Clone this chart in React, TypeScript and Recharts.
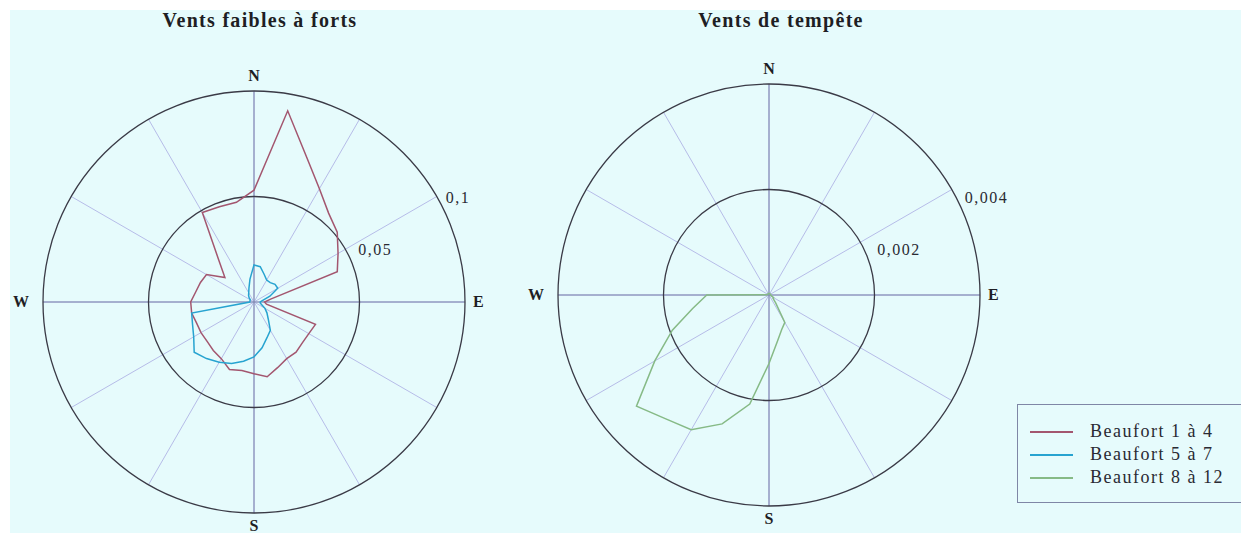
import React from 'react';
import { PolarAngleAxis, PolarGrid, PolarRadiusAxis, Radar, RadarChart } from 'recharts';

// wind direction, degrees from north, clockwise
const DIRECTIONS = [
  0, 10, 20, 30, 40, 50, 60, 70, 80, 90, 100, 110,
  120, 130, 140, 150, 160, 170, 180, 190, 200, 210, 220, 230,
  240, 250, 260, 270, 280, 290, 300, 310, 320, 330, 340, 350,
];

// frequencies
const BEAUFORT_1_4 = [
  0.053, 0.092, 0.073, 0.062, 0.055, 0.0515, 0.046, 0.042, 0.008, 0.005, 0.006, 0.031,
  0.030, 0.030, 0.031, 0.031, 0.033, 0.036, 0.034, 0.033, 0.034, 0.031, 0.030, 0.029,
  0.029, 0.029, 0.030, 0.030, 0.028, 0.027, 0.026, 0.018, 0.026, 0.049, 0.048, 0.048,
];
const BEAUFORT_5_7 = [
  0.0176, 0.017, 0.014, 0.012, 0.012, 0.013, 0.013, 0.008, 0.004, 0.003, 0.003, 0.004,
  0.006, 0.008, 0.0105, 0.0155, 0.018, 0.022, 0.026, 0.0285, 0.031, 0.033, 0.035, 0.037,
  0.033, 0.031, 0.030, 0.002, 0.002, 0.002, 0.002, 0.003, 0.004, 0.005, 0.007, 0.011,
];
const BEAUFORT_8_12 = [
  0.00003, 0.00003, 0.00003, 0.00003, 0.00003, 0.00003, 0.00003, 0.00003, 0.00003, 0.00003, 0.00004, 0.00005,
  0.0001, 0.0001, 0.0002, 0.0006, 0.0007, 0.0009, 0.0013, 0.0021, 0.0026, 0.00295, 0.00306, 0.00328,
  0.0025, 0.00195, 0.00147, 0.00118, 0.00003, 0.00003, 0.00003, 0.00003, 0.00003, 0.00003, 0.00003, 0.00003,
];

const SPOKES = [0, 30, 60, 90, 120, 150, 180, 210, 240, 270, 300, 330];
const CARDINALS: Record<number, string> = { 0: 'N', 90: 'E', 180: 'S', 270: 'W' };
const CALM_TICKS = [0.05, 0.1];
const STORM_TICKS = [0.002, 0.004];

const SERIES = [
  { key: 'b14', name: 'Beaufort 1 à 4', color: '#a3566f' },
  { key: 'b57', name: 'Beaufort 5 à 7', color: '#27a3d0' },
  { key: 'b812', name: 'Beaufort 8 à 12', color: '#86ba86' },
];

const data = DIRECTIONS.map((dir, i) => ({
  dir,
  b14: BEAUFORT_1_4[i],
  b57: BEAUFORT_5_7[i],
  b812: BEAUFORT_8_12[i],
}));

const SERIF = '"Liberation Serif", "DejaVu Serif", serif';
const BG = '#e6fbfc';
const RADIUS = 211;

// recharts angles: 90 = top, counter-clockwise
const cardinalAngles = Object.keys(CARDINALS).map(d => 90 - Number(d));

const CompassTick = (props: any) => {
  const { x, y, payload } = props;
  const label = CARDINALS[payload.value];
  if (!label) return <g />;
  const anchor = label === 'E' ? 'start' : label === 'W' ? 'end' : 'middle';
  const dy = label === 'N' ? 0 : label === 'S' ? 8 : 5;
  const dx = label === 'W' ? -4 : label === 'E' ? -2 : 0;
  return (
    <text x={x + dx} y={y + dy} textAnchor={anchor} fontFamily={SERIF} fontWeight="bold"
      fontSize={16} fill="#1e1e24">
      {label}
    </text>
  );
};

const makeRadiusTick = (dx: number, dy: number) => (props: any) => {
  const { x, y, payload } = props;
  const inner = payload.value !== props.ticksMax;
  return (
    <text x={x + dx + (inner ? 4 : 0)} y={y + dy} fontFamily={SERIF} fontSize={16}
      letterSpacing={1.5} fill="#2a2a33">
      {String(payload.value).replace('.', ',')}
    </text>
  );
};

interface RoseProps {
  title: string;
  keys: string[];
  ticks: number[];
  left: number;
  cx: number;
  cy: number;
  titleX: number;
  labelDx: number;
  labelDy: number;
}

const Rose = ({ title, keys, ticks, left, cx, cy, titleX, labelDx, labelDy }: RoseProps) => {
  const maxTick = ticks[ticks.length - 1];
  const baseTick = makeRadiusTick(labelDx, labelDy);
  return (
    <div style={{ position: 'absolute', left, top: 0, width: 515, height: 523 }}>
      <div style={{
        position: 'absolute', left: titleX - 200, top: 0, width: 400, textAlign: 'center',
        fontFamily: SERIF, fontWeight: 'bold', fontSize: 20, lineHeight: '20px',
        letterSpacing: 1.3, color: '#1e1e24',
      }}>
        {title}
      </div>
      <RadarChart width={515} height={523} data={data} cx={cx} cy={cy} outerRadius={RADIUS}>
        <PolarGrid gridType="circle" polarRadius={[]} stroke="#b6bce8" strokeWidth={1} />
        <PolarGrid gridType="circle" polarRadius={[]} polarAngles={cardinalAngles} stroke="#7d84ac" strokeWidth={1} />
        <PolarGrid gridType="circle" radialLines={false} stroke="#3a3a46" strokeWidth={1.3} />
        <PolarAngleAxis type="number" dataKey="dir" domain={[0, 360]} ticks={SPOKES}
          axisLine={false} tickLine={false} tickSize={10} tick={CompassTick} />
        <PolarRadiusAxis angle={30} domain={[0, maxTick]} ticks={ticks}
          axisLine={false} tickLine={false}
          tick={(p: any) => baseTick({ ...p, ticksMax: maxTick })} />
        {SERIES.filter(s => keys.includes(s.key)).map(s => (
          <Radar key={s.key} name={s.name} dataKey={s.key} stroke={s.color} strokeWidth={1.5}
            fill="none" dot={false} isAnimationActive={false} />
        ))}
      </RadarChart>
    </div>
  );
};

const LegendBox = () => (
  <div style={{
    position: 'absolute', left: 1007, top: 394, width: 260, height: 99,
    border: '1px solid #7f86a6', paddingTop: 15, boxSizing: 'border-box',
  }}>
    {SERIES.map(s => (
      <div key={s.key} style={{ display: 'flex', alignItems: 'center', height: 23 }}>
        <div style={{ marginLeft: 12, width: 43, height: 0, borderTop: `2px solid ${s.color}` }} />
        <span style={{
          marginLeft: 17, fontFamily: SERIF, fontSize: 18, letterSpacing: 1.5,
          color: '#2a2a33', lineHeight: '23px',
        }}>
          {s.name}
        </span>
      </div>
    ))}
  </div>
);

export default function App() {
  return (
    <div style={{
      position: 'absolute', left: 10, top: 10, width: 1231, height: 523,
      background: BG, overflow: 'hidden',
    }}>
      <Rose title="Vents faibles à forts" keys={['b14', 'b57']} ticks={CALM_TICKS}
        left={0} cx={244} cy={292} titleX={250} labelDx={9} labelDy={6} />
      <Rose title="Vents de tempête" keys={['b812']} ticks={STORM_TICKS}
        left={510} cx={249} cy={285} titleX={261} labelDx={13} labelDy={13} />
      <LegendBox />
    </div>
  );
}
